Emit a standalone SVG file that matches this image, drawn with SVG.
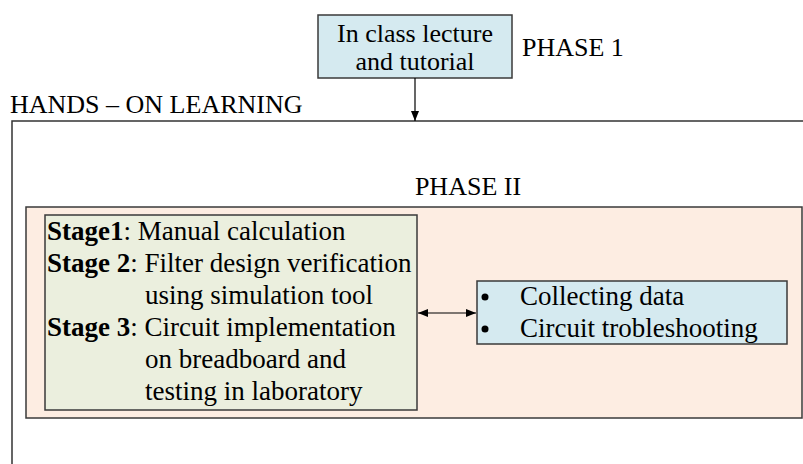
<svg xmlns="http://www.w3.org/2000/svg" width="803" height="464" viewBox="0 0 803 464">
<style>
text{font-family:"Liberation Serif","Times New Roman",serif;fill:#000}
.t{font-size:26px}
.s{font-size:27px}
.b{font-weight:bold}
.box{stroke:#3a3a3a;stroke-width:1.5}
.ln{stroke:#000;stroke-width:1.2;fill:none}
</style>
<defs>
<marker id="ah" viewBox="0 0 10 10" refX="10" refY="5" markerWidth="10" markerHeight="10" markerUnits="userSpaceOnUse" orient="auto-start-reverse">
<path d="M0,1 L10,5 L0,9 z" fill="#000"/>
</marker>
</defs>
<rect width="803" height="464" fill="#fff"/>
<g id="frame">
<path d="M12,464 V121 H803" stroke="#333" stroke-width="1.5" fill="none"/>
<text class="t" x="10" y="113">HANDS – ON LEARNING</text>
</g>
<g id="phase1">
<rect class="box" x="318" y="15" width="194" height="63" fill="#d5eaf0"/>
<text class="t" x="415" y="42" text-anchor="middle">In class lecture</text>
<text class="t" x="415" y="70" text-anchor="middle">and tutorial</text>
<text class="t" x="522" y="56">PHASE 1</text>
</g>
<g id="phase2">
<rect class="box" x="26" y="207" width="776" height="211" fill="#fdede2"/>
<text class="t" x="468" y="195" text-anchor="middle">PHASE II</text>
</g>
<g id="stages">
<rect class="box" x="45" y="215" width="372" height="195" fill="#ebefde"/>
<text class="s" x="47" y="240"><tspan class="b">Stage1</tspan>: Manual calculation</text>
<text class="s" x="47" y="272"><tspan class="b">Stage 2</tspan>: Filter design verification</text>
<text class="s" x="145" y="304">using simulation tool</text>
<text class="s" x="47" y="336"><tspan class="b">Stage 3</tspan>: Circuit implementation</text>
<text class="s" x="145" y="368">on breadboard and</text>
<text class="s" x="145" y="400">testing in laboratory</text>
</g>
<g id="tasks">
<rect class="box" x="477" y="281" width="310" height="63" fill="#d5eaf0"/>
<circle cx="485" cy="297" r="3.5" fill="#000"/>
<circle cx="485" cy="329" r="3.5" fill="#000"/>
<text class="s" x="520" y="305">Collecting data</text>
<text class="s" x="520" y="337">Circuit trobleshooting</text>
</g>
<g id="connectors">
<line class="ln" x1="415" y1="78" x2="415" y2="121" marker-end="url(#ah)"/>
<line class="ln" x1="418" y1="313" x2="476" y2="313" marker-start="url(#ah)" marker-end="url(#ah)"/>
</g>
</svg>
